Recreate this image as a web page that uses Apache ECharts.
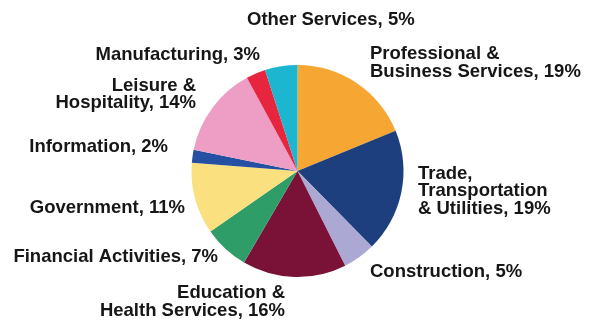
<!DOCTYPE html>
<html>
<head>
<meta charset="utf-8">
<script src="https://cdn.jsdelivr.net/npm/echarts@6/dist/echarts.min.js"></script>
<style>
  html, body { margin: 0; padding: 0; background: #fff; }
  #chart { width: 592px; height: 323px; }
</style>
</head>
<body>
<div id="chart"></div>
<script>
// Employment share by industry, clockwise from 12 o'clock
const sectors = [
  'Professional &\nBusiness Services',
  'Trade,\nTransportation\n& Utilities',
  'Construction',
  'Education &\nHealth Services',
  'Financial Activities',
  'Government',
  'Information',
  'Leisure &\nHospitality',
  'Manufacturing',
  'Other Services'
];
const shares = [19, 19, 5, 16, 7, 11, 2, 14, 3, 5];
const sliceColors = [
  '#F6A733', '#1D3F7D', '#ABA8D3', '#7A1238', '#2F9D68',
  '#FBE07F', '#2550A2', '#EE9DC5', '#E8253F', '#1DB6D1'
];

// Where each label sits (anchor x, middle y, alignment)
const labelSpots = [
  { x: 370, y: 63, align: 'left' },
  { x: 418, y: 191, align: 'left' },
  { x: 370, y: 271.5, align: 'left' },
  { x: 285, y: 302, align: 'right' },
  { x: 218, y: 256.5, align: 'right' },
  { x: 185, y: 207.5, align: 'right' },
  { x: 168, y: 147, align: 'right' },
  { x: 196, y: 94.5, align: 'right' },
  { x: 260, y: 55, align: 'right' },
  { x: 247, y: 19.5, align: 'left' }
];

const chart = echarts.init(document.getElementById('chart'), null, { renderer: 'canvas' });
chart.setOption({
  animation: false,
  backgroundColor: '#ffffff',
  series: [{
    type: 'pie',
    center: [297.5, 171],
    radius: 106,
    startAngle: 90,
    clockwise: true,
    avoidLabelOverlap: false,
    itemStyle: { borderWidth: 0 },
    emphasis: { disabled: true },
    label: {
      show: true,
      position: 'outside',
      formatter: p => p.name + ', ' + p.value + '%',
      fontFamily: 'Liberation Sans, Arial, sans-serif',
      fontWeight: 'bold',
      fontSize: 18.5,
      lineHeight: 17.5,
      color: '#161616'
    },
    labelLine: { show: false },
    labelLayout: params => {
      const s = labelSpots[params.dataIndex];
      return { x: s.x, y: s.y, align: s.align, verticalAlign: 'middle' };
    },
    data: sectors.map((name, i) => ({
      name: name,
      value: shares[i],
      itemStyle: { color: sliceColors[i] }
    }))
  }]
});
</script>
</body>
</html>
